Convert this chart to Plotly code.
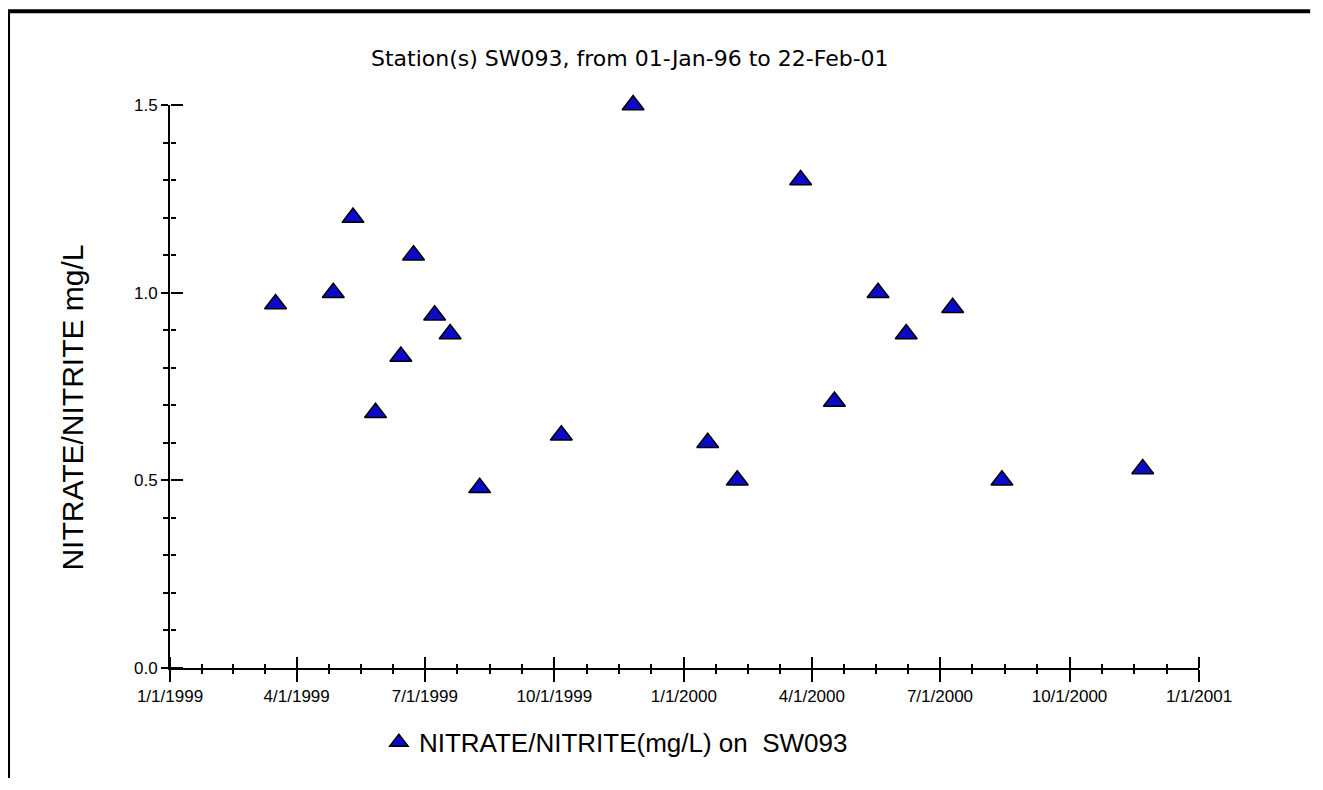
import pandas as pd
import plotly.graph_objects as go

# ---- data ----
sample_dates = [
    "1999-03-17", "1999-04-27", "1999-05-11", "1999-05-27", "1999-06-14",
    "1999-06-23", "1999-07-08", "1999-07-19", "1999-08-09", "1999-10-06",
    "1999-11-26", "2000-01-18", "2000-02-08", "2000-03-24", "2000-04-17",
    "2000-05-18", "2000-06-07", "2000-07-10", "2000-08-14", "2000-11-22",
]
nitrate_values = [
    0.97, 1.00, 1.20, 0.68, 0.83,
    1.10, 0.94, 0.89, 0.48, 0.62,
    1.50, 0.60, 0.50, 1.30, 0.71,
    1.00, 0.89, 0.96, 0.50, 0.53,
]
x_tick_dates = ["1999-01-01", "1999-04-01", "1999-07-01", "1999-10-01",
                "2000-01-01", "2000-04-01", "2000-07-01", "2000-10-01", "2001-01-01"]
x_tick_labels = ["1/1/1999", "4/1/1999", "7/1/1999", "10/1/1999",
                 "1/1/2000", "4/1/2000", "7/1/2000", "10/1/2000", "1/1/2001"]
y_tick_values = [0.0, 0.5, 1.0, 1.5]
y_tick_labels = ["0.0", "0.5", "1.0", "1.5"]

title_text = "Station(s) SW093, from 01-Jan-96 to 22-Feb-01"
y_title = "NITRATE/NITRITE mg/L"
series_name = "NITRATE/NITRITE(mg/L) on  SW093"

# minor x ticks: each quarter split into four parts
q = pd.to_datetime(x_tick_dates)
minor_x = []
for a, b in zip(q[:-1], q[1:]):
    for k in (1, 2, 3):
        minor_x.append((a + (b - a) * k / 4).strftime("%Y-%m-%d %H:%M"))

TICKFONT = dict(family="Liberation Sans", size=17, color="black")
dates = pd.to_datetime(sample_dates)

fig = go.Figure()
# invisible copy on the overlay axes, which carry the inner half of the
# crossing tick marks
fig.add_trace(go.Scatter(x=dates, y=nitrate_values, xaxis="x2", yaxis="y2",
                         mode="markers", marker=dict(opacity=0),
                         showlegend=False, hoverinfo="skip"))
fig.add_trace(go.Scatter(
    x=dates, y=nitrate_values, mode="markers",
    name=series_name, showlegend=True, cliponaxis=False,
    marker=dict(symbol="triangle-up", size=19, color="#0a0ac8",
                line=dict(color="black", width=1.5)),
))

xr = [x_tick_dates[0], x_tick_dates[-1]]
common_x = dict(type="date", range=xr, showgrid=False, zeroline=False,
                tickmode="array", tickvals=x_tick_dates, tickwidth=2,
                tickcolor="black", fixedrange=True)
common_y = dict(range=[0, 1.5], showgrid=False, zeroline=False,
                tickmode="array", tickvals=y_tick_values, tickwidth=2,
                tickcolor="black", fixedrange=True)

fig.update_layout(
    width=1303, height=770,
    margin=dict(l=162, r=112, t=97, b=106),
    paper_bgcolor="white", plot_bgcolor="rgba(0,0,0,0)",
    showlegend=True,
    xaxis=dict(**common_x, ticktext=x_tick_labels, ticks="outside",
               ticklen=12, showline=True, linecolor="black", linewidth=2,
               tickfont=TICKFONT,
               minor=dict(tickvals=minor_x, ticks="outside", ticklen=4,
                          tickwidth=2, tickcolor="black")),
    yaxis=dict(**common_y, ticktext=y_tick_labels, ticks="outside",
               ticklen=7, showline=True, linecolor="black", linewidth=2,
               tickfont=TICKFONT,
               minor=dict(dtick=0.1, tick0=0, ticks="outside", ticklen=5,
                          tickwidth=2, tickcolor="black")),
    # top-sided axis placed at the bottom edge: its outside ticks point inward
    xaxis2=dict(**common_x, overlaying="x", anchor="free", position=0,
                side="top", ticks="outside", ticklen=11,
                showticklabels=False, showline=False,
                minor=dict(tickvals=minor_x, ticks="outside", ticklen=4,
                           tickwidth=2, tickcolor="black")),
    yaxis2=dict(**common_y, overlaying="y", anchor="free", position=0,
                side="right", ticks="outside", ticklen=12,
                showticklabels=False, showline=False,
                minor=dict(dtick=0.1, tick0=0, ticks="outside", ticklen=5,
                           tickwidth=2, tickcolor="black")),
    legend=dict(orientation="h", x=0.203, xanchor="left", y=-0.132,
                yanchor="middle", itemwidth=30,
                font=dict(family="Liberation Sans", size=26, color="black"),
                bgcolor="rgba(0,0,0,0)"),
    annotations=[
        dict(text=title_text, xref="paper", yref="paper", x=0.447, y=1.083,
             xanchor="center", yanchor="middle", showarrow=False,
             font=dict(family="DejaVu Sans", size=22, color="black")),
        dict(text=y_title, xref="paper", yref="paper", x=-0.095, y=0.463,
             xanchor="center", yanchor="middle", showarrow=False, textangle=-90,
             font=dict(family="Liberation Sans", size=30, color="black")),
    ],
    shapes=[
        dict(type="line", xref="paper", yref="paper", x0=-0.1574, x1=-0.1574,
             y0=-0.2, y1=1.1663, line=dict(color="black", width=4)),
        dict(type="line", xref="paper", yref="paper", x0=-0.1574, x1=1.108,
             y0=1.1663, y1=1.1663, line=dict(color="black", width=4)),
    ],
)

fig.write_html("out.html")
